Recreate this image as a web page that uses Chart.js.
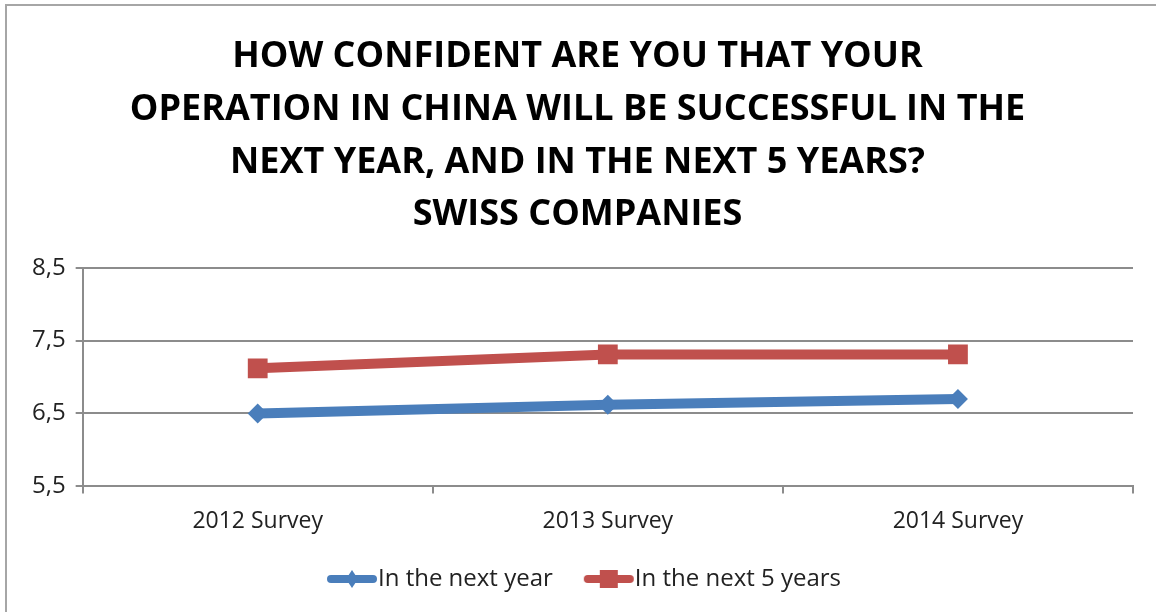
<!DOCTYPE html>
<html>
<head>
<meta charset="utf-8">
<script src="https://cdn.jsdelivr.net/npm/chart.js"></script>
<style>
	html, body { margin: 0; padding: 0; background: #fff; overflow: hidden; }
	#wrap { position: relative; width: 1156px; height: 612px; }
	#frame { position: absolute; left: 5px; top: 4px; width: 1200px; height: 700px;
		border-top: 2px solid #a6a6a6; border-left: 2px solid #a6a6a6; }
	canvas { position: absolute; left: 0; top: 0; }
</style>
</head>
<body>
<div id="wrap">
	<div id="frame"></div>
	<canvas id="myChart" width="1156" height="612"></canvas>
</div>
<script>
// chart data
const titleLines = [
	"HOW CONFIDENT ARE YOU THAT YOUR",
	"OPERATION IN CHINA WILL BE SUCCESSFUL IN THE",
	"NEXT YEAR, AND IN THE NEXT 5 YEARS?",
	"SWISS COMPANIES"
];
const surveys = ["2012 Survey", "2013 Survey", "2014 Survey"];
const nextYear = [6.5, 6.62, 6.7];
const next5Years = [7.12, 7.31, 7.31];
const yTicks = [5.5, 6.5, 7.5, 8.5];

const BLUE = '#4a7ebb';
const RED = '#c0504d';
const FONT = "'Open Sans', 'DejaVu Sans', sans-serif";

// legend swatch: line with marker, pushed to the right of a wider image
function legendSwatch(color, marker) {
	let c = document.createElement("canvas");
	c.width = 80;
	c.height = 22;
	let ctx = c.getContext("2d");
	ctx.strokeStyle = color;
	ctx.lineWidth = 8;
	ctx.lineCap = "round";
	ctx.beginPath();
	ctx.moveTo(31, 11);
	ctx.lineTo(73, 11);
	ctx.stroke();
	ctx.fillStyle = color;
	if (marker == "diamond") {
		ctx.beginPath();
		ctx.moveTo(52, 2);
		ctx.lineTo(58, 11);
		ctx.lineTo(52, 20);
		ctx.lineTo(46, 11);
		ctx.closePath();
		ctx.fill();
	}
	else {
		ctx.fillRect(43, 2, 18, 18);
	}
	return c;
}

Chart.defaults.font.family = FONT;
Chart.defaults.color = '#222';

new Chart(document.getElementById('myChart'), {
	type: 'line',
	data: {
		labels: surveys,
		datasets: [
			{
				label: 'In the next year',
				data: nextYear,
				borderColor: BLUE,
				backgroundColor: BLUE,
				borderWidth: 10,
				pointStyle: 'rectRot',
				pointRadius: 10,
				pointBorderWidth: 0,
				tension: 0
			},
			{
				label: 'In the next 5 years',
				data: next5Years,
				borderColor: RED,
				backgroundColor: RED,
				borderWidth: 10,
				pointStyle: 'rect',
				pointRadius: 14,
				pointBorderWidth: 0,
				tension: 0
			}
		]
	},
	options: {
		responsive: false,
		animation: false,
		layout: { padding: { left: 22, right: 23, top: 30, bottom: 11 } },
		plugins: {
			tooltip: { enabled: false },
			title: {
				display: true,
				text: titleLines,
				color: '#000',
				font: { size: 36, weight: 'bold', family: FONT, lineHeight: 1.47 },
				padding: { top: 0, bottom: 26 }
			},
			legend: {
				position: 'bottom',
				labels: {
					usePointStyle: true,
					pointStyleWidth: 52,
					boxHeight: 22,
					font: { size: 24 },
					color: '#222',
					padding: 18,
					generateLabels: function (chart) {
						return chart.data.datasets.map((ds, i) => ({
							text: ds.label,
							pointStyle: legendSwatch(ds.borderColor, i == 0 ? "diamond" : "square"),
							fillStyle: ds.borderColor,
							strokeStyle: ds.borderColor,
							lineWidth: 0,
							datasetIndex: i,
							fontColor: '#222'
						}));
					}
				}
			}
		},
		scales: {
			x: {
				offset: true,
				grid: {
					offset: true,
					drawOnChartArea: false,
					drawTicks: true,
					tickLength: 7,
					color: '#8c8c8c',
					lineWidth: 2
				},
				border: { color: '#8c8c8c', width: 2 },
				ticks: { font: { size: 23 }, color: '#222', padding: 14 }
			},
			y: {
				min: 5.5,
				max: 8.5,
				afterBuildTicks: function (axis) {
					axis.ticks = yTicks.map(v => ({ value: v }));
				},
				ticks: {
					font: { size: 24 },
					color: '#222',
					padding: 10,
					callback: v => v.toFixed(1).replace('.', ',')
				},
				grid: { color: '#8c8c8c', lineWidth: 2, tickLength: 7 },
				border: { color: '#8c8c8c', width: 2 }
			}
		}
	}
});
</script>
</body>
</html>
